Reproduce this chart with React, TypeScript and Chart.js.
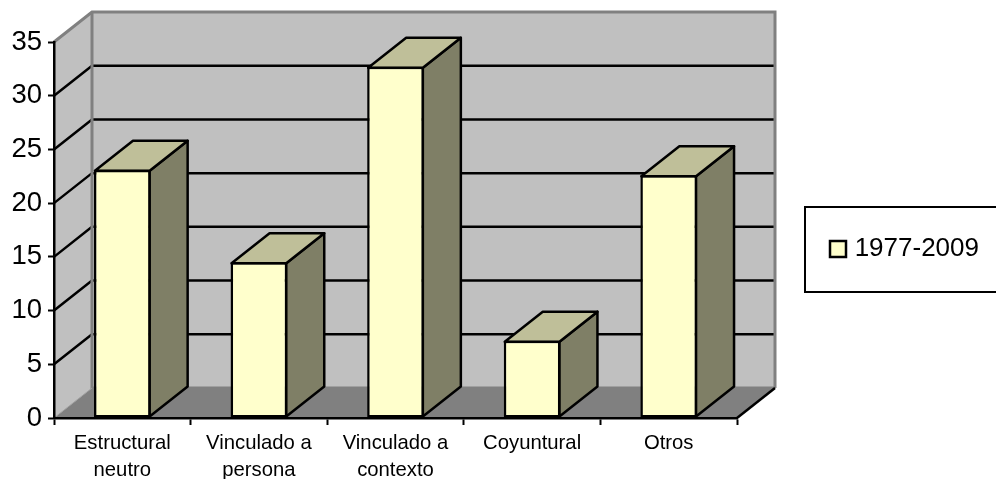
import React, { useEffect, useRef } from "react";
import { Chart, registerables } from "chart.js";

Chart.register(...registerables);

const categories: string[][] = [
  ["Estructural", "neutro"],
  ["Vinculado a", "persona"],
  ["Vinculado a", "contexto"],
  ["Coyuntural"],
  ["Otros"],
];
const seriesName = "1977-2009";
const seriesValues = [23.1, 14.5, 32.7, 7.2, 22.6];
const gridValues = [5, 10, 15, 20, 25, 30];

const FONT = "'Liberation Sans', Arial, sans-serif";
const DX = 38;
const DY = -30;
const WALL = "#C0C0C0";
const FLOOR = "#808080";
const EDGE = "#808080";
const FRONT = "#FFFFCC";
const SIDE = "#7F7F66";
const TOP = "#BFBF99";
const LW = 2.5;

function poly(ctx: CanvasRenderingContext2D, pts: number[][], fill?: string, stroke?: string, lw = LW) {
  ctx.beginPath();
  pts.forEach((p, i) => (i ? ctx.lineTo(p[0], p[1]) : ctx.moveTo(p[0], p[1])));
  ctx.closePath();
  if (fill) {
    ctx.fillStyle = fill;
    ctx.fill();
  }
  if (stroke) {
    ctx.strokeStyle = stroke;
    ctx.lineWidth = lw;
    ctx.lineJoin = "round";
    ctx.stroke();
  }
}

function seg(ctx: CanvasRenderingContext2D, pts: number[][], stroke: string, lw = LW) {
  ctx.beginPath();
  pts.forEach((p, i) => (i ? ctx.lineTo(p[0], p[1]) : ctx.moveTo(p[0], p[1])));
  ctx.strokeStyle = stroke;
  ctx.lineWidth = lw;
  ctx.stroke();
}

const box3d = {
  id: "box3d",
  beforeLayout(chart: any) {
    const legend = chart.legend;
    if (legend && !legend.__wrapped) {
      const fit = legend.fit.bind(legend);
      legend.fit = () => {
        fit();
        legend.width = 259;
      };
      legend.__wrapped = true;
    }
  },
  afterLayout(chart: any) {
    const legend = chart.legend;
    legend.left = 820;
    legend.right = 979;
    legend.top = 226;
    legend.bottom = 280;
    legend.width = 159;
    legend.height = 54;
  },
  beforeDraw(chart: any) {
    const ctx: CanvasRenderingContext2D = chart.ctx;
    const { left, right, top, bottom } = chart.chartArea;
    const y = chart.scales.y;
    ctx.save();
    ctx.fillStyle = "#FFFFFF";
    ctx.fillRect(0, 0, chart.width, chart.height);
    ctx.strokeStyle = "#000";
    ctx.lineWidth = 2;
    ctx.strokeRect(805, 207, 200, 85);
    poly(ctx, [[left + DX, top + DY], [right + DX, top + DY], [right + DX, bottom + DY], [left + DX, bottom + DY]], WALL);
    poly(ctx, [[left, top], [left + DX, top + DY], [left + DX, bottom + DY], [left, bottom]], WALL);
    poly(ctx, [[left, bottom], [left + DX, bottom + DY], [right + DX, bottom + DY], [right, bottom]], FLOOR);
    gridValues.forEach((v) => {
      const py = y.getPixelForValue(v);
      seg(ctx, [[left, py], [left + DX, py + DY], [right + DX, py + DY]], "#000");
    });
    seg(ctx, [[left, top], [left + DX, top + DY], [right + DX, top + DY], [right + DX, bottom + DY]], EDGE, 3);
    seg(ctx, [[left + DX, top + DY], [left + DX, bottom + DY], [right + DX, bottom + DY]], EDGE, 3);
    seg(ctx, [[left, bottom], [left + DX, bottom + DY]], "#A0A0A0", 1);
    seg(ctx, [[right, bottom], [right + DX, bottom + DY]], "#000", LW);
    ctx.restore();
  },
  beforeDatasetsDraw(chart: any) {
    const ctx: CanvasRenderingContext2D = chart.ctx;
    const meta = chart.getDatasetMeta(0);
    ctx.save();
    meta.data.forEach((bar: any) => {
      const l = bar.x - bar.width / 2 + 1;
      const r = bar.x + bar.width / 2 - 1;
      const t = bar.y + 1;
      const b = bar.base - 1;
      poly(ctx, [[r, t], [r + DX, t + DY], [r + DX, b + DY], [r, b]], SIDE, "#000");
      poly(ctx, [[l, t], [l + DX, t + DY], [r + DX, t + DY], [r, t]], TOP, "#000");
    });
    ctx.restore();
  },
};

export default function App() {
  const ref = useRef<HTMLCanvasElement>(null);
  useEffect(() => {
    const chart = new Chart(ref.current!, {
      type: "bar",
      data: {
        labels: categories,
        datasets: [
          {
            label: seriesName,
            data: seriesValues,
            backgroundColor: FRONT,
            borderColor: "#000",
            borderWidth: 2.5,
            borderSkipped: false,
            categoryPercentage: 1,
            barPercentage: 0.415,
          } as any,
        ],
      },
      plugins: [box3d as any],
      options: {
        responsive: false,
        animation: false,
        layout: { padding: { top: 42, left: 0, right: 0, bottom: 0 } },
        plugins: {
          title: { display: false },
          tooltip: { enabled: false },
          legend: {
            display: true,
            position: "right",
            align: "start",
            labels: {
              boxWidth: 16,
              boxHeight: 16,
              padding: 10,
              textAlign: "right",
              color: "#000",
              font: { family: FONT, size: 26, lineHeight: 1 },
            },
          },
        },
        scales: {
          x: {
            afterFit: (s: any) => {
              s.height = 61;
            },
            border: { color: "#000", width: 2.5 },
            grid: { drawOnChartArea: false, drawTicks: true, tickLength: 7, tickWidth: 2, tickColor: "#000" },
            ticks: { color: "#000", font: { family: FONT, size: 20.3, lineHeight: 1.32 }, padding: 5, maxRotation: 0, autoSkip: false },
          },
          y: {
            min: 0,
            max: 35,
            afterFit: (s: any) => {
              s.width = 54;
            },
            border: { color: "#000", width: 2.5 },
            grid: { drawOnChartArea: false, drawTicks: true, tickLength: 6, tickWidth: 2, tickColor: "#000" },
            ticks: { stepSize: 5, color: "#000", font: { family: FONT, size: 27.5 }, padding: 6 },
          },
        },
      } as any,
    });
    return () => chart.destroy();
  }, []);
  return (
    <div style={{ position: "absolute", left: 0, top: 0, width: 996, height: 479 }}>
      <canvas ref={ref} width={996} height={479} style={{ display: "block" }} />
    </div>
  );
}
